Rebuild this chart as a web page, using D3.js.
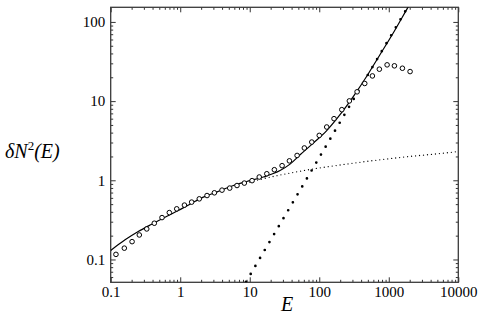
<!DOCTYPE html>
<html>
<head>
<meta charset="utf-8">
<script src="https://cdn.jsdelivr.net/npm/d3@7"></script>
<style>
  body { margin: 0; background: #fff; }
</style>
</head>
<body>
<div id="chart"></div>
<script>
// open circles (data)
var circleE  = [0.119, 0.157, 0.203, 0.258, 0.330, 0.424, 0.547, 0.697, 0.891, 1.15,
                1.46, 1.88, 2.43, 3.10, 3.99, 5.15, 6.56, 8.36, 10.8, 13.7,
                17.6, 22.6, 29.2, 37.2, 48.0, 61, 78, 100, 128, 163,
                211, 271, 350, 451, 581, 732, 946, 1205, 1570, 2025];
var circleN2 = [0.116, 0.139, 0.168, 0.204, 0.243, 0.287, 0.338, 0.391, 0.436, 0.486,
                0.530, 0.583, 0.642, 0.695, 0.751, 0.797, 0.859, 0.922, 0.99, 1.10,
                1.21, 1.36, 1.53, 1.76, 2.06, 2.56, 3.04, 3.69, 4.71, 6.0,
                7.8, 10.06, 13.1, 16.7, 20.8, 25.3, 28.7, 27.9, 26.0, 23.6];

// solid curve
var curveE  = [0.1, 0.161, 0.249, 0.389, 0.604, 0.939, 1.46, 2.15, 3.4, 5.2, 9.05, 15.7,
               27.3, 38, 53, 82, 128, 199, 310, 482, 750, 1165, 1815, 2100];
var curveN2 = [0.130, 0.177, 0.225, 0.279, 0.342, 0.415, 0.514, 0.613, 0.715, 0.83, 0.965, 1.10,
               1.33, 1.6, 2.1, 2.95, 4.25, 6.75, 11.5, 20.6, 38.8, 73, 144, 180];

// fine dotted line (logarithmic growth)
var logE  = [10, 20, 50, 100, 200, 500, 1000, 2000, 5000, 10000];
var logN2 = [0.95, 1.1, 1.29, 1.43, 1.56, 1.74, 1.87, 2.0, 2.16, 2.31];

// heavy dotted line (power law)
var powE  = [8, 100, 2000];
var powN2 = [0.045, 1.94, 170];

// axes
var xMajor = [0.1, 1, 10, 100, 1000, 10000];
var xTickLabels = ["0.1", "1", "10", "100", "1000", "10000"];
var yMajor = [0.1, 1, 10, 100];
var yTickLabels = ["0.1", "1", "10", "100"];

var serif = "'Liberation Serif', 'Times New Roman', serif";

var width = 485, height = 325;
var margin = {left: 110.7, right: 26.7, top: 7.3, bottom: 42.7};
var c_width = width - margin.left - margin.right;
var c_height = height - margin.top - margin.bottom;

var svg = d3.select("#chart").append("svg")
    .attr("width", width)
    .attr("height", height);

var g = svg.append("g").attr("transform", "translate(" + margin.left + "," + margin.top + ")");

var x = d3.scaleLog().domain([0.1, 10000]).range([0, c_width]);
var y = d3.scaleLog().domain([0.0515, 153]).range([c_height, 0]);

var xMinor = x.ticks().filter(function(d) { return xMajor.indexOf(d) < 0; });
var yMinor = y.ticks().filter(function(d) { return yMajor.indexOf(d) < 0 && d > 0.0515; });

svg.append("defs").append("clipPath").attr("id", "clip")
  .append("rect").attr("width", c_width).attr("height", c_height);

/* AXES: ticks point inward on all four sides */
function addAxis(axis, tx, ty) {
    var a = g.append("g")
        .attr("transform", "translate(" + tx + "," + ty + ")")
        .call(axis)
        .attr("font-family", serif)
        .attr("font-size", 15);
    a.select(".domain").remove();
    a.selectAll(".tick line").attr("stroke", "#333").attr("stroke-width", 1);
    a.selectAll(".tick text").attr("fill", "#000");
    return a;
}

addAxis(d3.axisBottom(x).tickValues(xMajor).tickSize(-5).tickSizeOuter(0).tickPadding(4.5)
    .tickFormat(function(d, i) { return xTickLabels[i]; }), 0, c_height);
addAxis(d3.axisBottom(x).tickValues(xMinor).tickSize(-2.5).tickSizeOuter(0).tickFormat(""), 0, c_height);
addAxis(d3.axisTop(x).tickValues(xMajor).tickSize(-5).tickSizeOuter(0).tickFormat(""), 0, 0);
addAxis(d3.axisTop(x).tickValues(xMinor).tickSize(-2.5).tickSizeOuter(0).tickFormat(""), 0, 0);

addAxis(d3.axisLeft(y).tickValues(yMajor).tickSize(-5).tickSizeOuter(0).tickPadding(5.5)
    .tickFormat(function(d, i) { return yTickLabels[i]; }), 0, 0);
addAxis(d3.axisLeft(y).tickValues(yMinor).tickSize(-2.5).tickSizeOuter(0).tickFormat(""), 0, 0);
addAxis(d3.axisRight(y).tickValues(yMajor).tickSize(-5).tickSizeOuter(0).tickFormat(""), c_width, 0);
addAxis(d3.axisRight(y).tickValues(yMinor).tickSize(-2.5).tickSizeOuter(0).tickFormat(""), c_width, 0);

g.append("rect")
    .attr("width", c_width)
    .attr("height", c_height)
    .attr("fill", "none")
    .attr("stroke", "#3a3a3a")
    .attr("stroke-width", 1.3);

/* SERIES */
var plot = g.append("g").attr("clip-path", "url(#clip)");

function zip(xs, ys) {
    return xs.map(function(d, i) { return {e: d, v: ys[i]}; });
}

var line = d3.line()
    .x(function(d) { return x(d.e); })
    .y(function(d) { return y(d.v); });

plot.append("path")
    .datum(zip(logE, logN2))
    .attr("d", line.curve(d3.curveMonotoneX))
    .attr("fill", "none")
    .attr("stroke", "#000")
    .attr("stroke-width", 1.3)
    .attr("stroke-linecap", "round")
    .attr("stroke-dasharray", "0 4");

plot.append("path")
    .datum(zip(powE, powN2))
    .attr("d", line.curve(d3.curveLinear))
    .attr("fill", "none")
    .attr("stroke", "#000")
    .attr("stroke-width", 2.7)
    .attr("stroke-linecap", "round")
    .attr("stroke-dasharray", "0 9.23")
    .attr("stroke-dashoffset", 3.3);

plot.append("path")
    .datum(zip(curveE, curveN2))
    .attr("d", line.curve(d3.curveMonotoneX))
    .attr("fill", "none")
    .attr("stroke", "#000")
    .attr("stroke-width", 1.2);

plot.selectAll(".pt")
    .data(zip(circleE, circleN2))
    .enter().append("circle")
    .attr("class", "pt")
    .attr("cx", function(d) { return x(d.e); })
    .attr("cy", function(d) { return y(d.v); })
    .attr("r", 2.3)
    .attr("fill", "#fff")
    .attr("stroke", "#000")
    .attr("stroke-width", 1);

/* TITLES */
var yt = svg.append("text")
    .attr("x", 5)
    .attr("y", 158)
    .attr("font-family", serif)
    .attr("font-style", "italic")
    .attr("font-size", 20);
yt.append("tspan").text("δN");
yt.append("tspan").attr("dy", -8).attr("font-size", 13).attr("font-style", "normal").text("2");
yt.append("tspan").attr("dy", 8).text("(E)");

svg.append("text")
    .attr("x", 287)
    .attr("y", 311)
    .attr("text-anchor", "middle")
    .attr("font-family", serif)
    .attr("font-style", "italic")
    .attr("font-size", 20)
    .text("E");
</script>
</body>
</html>
